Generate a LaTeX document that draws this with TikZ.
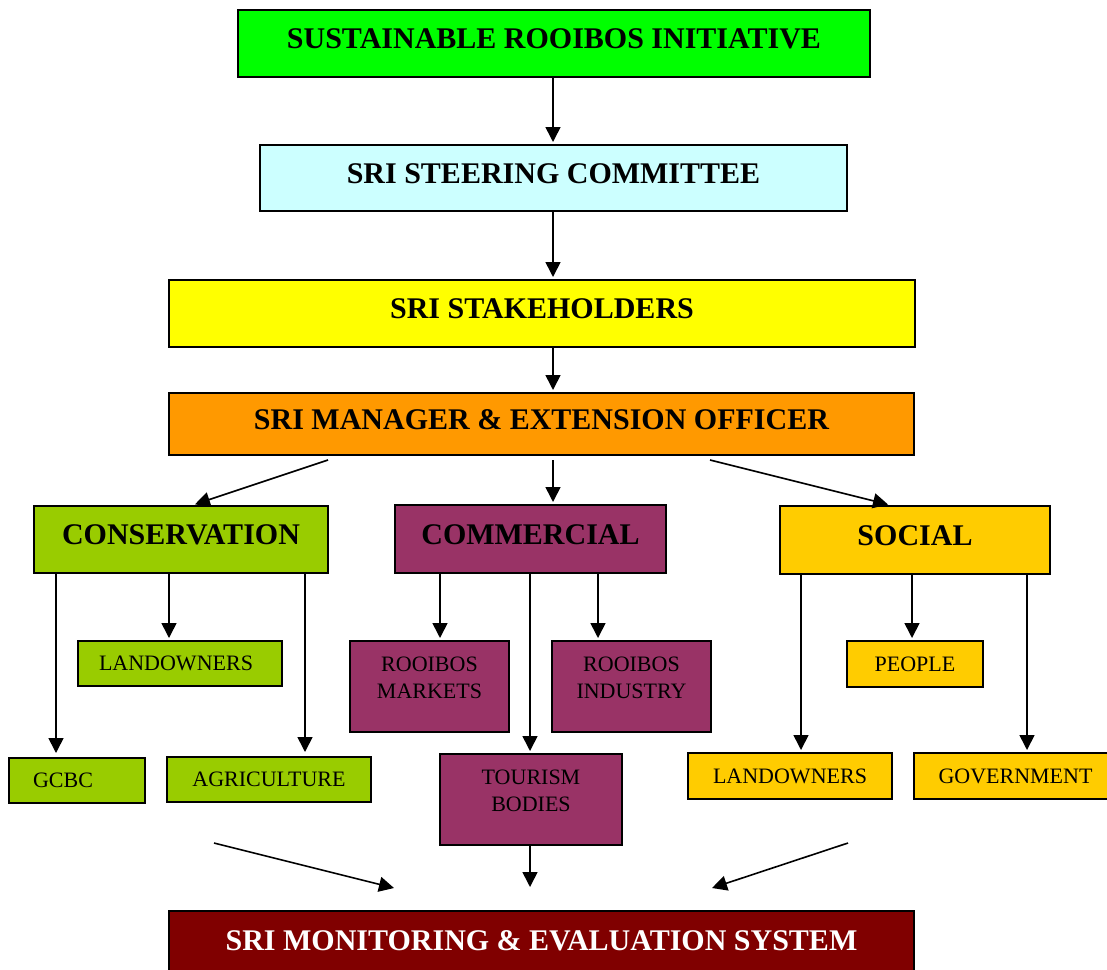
\documentclass[tikz,border=0pt]{standalone}
\usepackage{fontspec}
\setmainfont{Liberation Serif}
\usetikzlibrary{arrows.meta}
\definecolor{cSRI}{HTML}{00FF00}
\definecolor{cSteer}{HTML}{CCFFFF}
\definecolor{cStake}{HTML}{FFFF00}
\definecolor{cMgr}{HTML}{FF9900}
\definecolor{cCons}{HTML}{99CC00}
\definecolor{cComm}{HTML}{993366}
\definecolor{cSoc}{HTML}{FFCC00}
\definecolor{cME}{HTML}{800000}
\begin{document}
\begin{tikzpicture}[x=1pt,y=-1pt,
  box/.style={draw=black, line width=2pt, rectangle, inner sep=0pt},
  big/.style={box, font=\fontsize{30}{36}\selectfont\bfseries, text depth=9pt},
  small/.style={box, font=\fontsize{22}{27}\selectfont},
  tallbox/.style={small, align=center, text depth=17pt},
  arr/.style={line width=1.6pt, -{Triangle[length=15pt,width=15pt]}, shorten >=2pt}]
\clip (0,0) rectangle (1107,969);
\fill[white] (0,0) rectangle (1107,969);

% main column
\node[big, fill=cSRI, minimum width=632pt, minimum height=67pt] (sri) at (554,43.5) {SUSTAINABLE ROOIBOS INITIATIVE};
\node[big, fill=cSteer, minimum width=587pt, minimum height=66pt] (steer) at (553.5,178) {SRI STEERING COMMITTEE};
\node[big, fill=cStake, minimum width=746pt, minimum height=67pt] (stake) at (542,313.5) {SRI STAKEHOLDERS};
\node[big, fill=cMgr, minimum width=745pt, minimum height=62pt] (mgr) at (541.5,424) {SRI MANAGER \& EXTENSION OFFICER};

% pillars
\node[big, fill=cCons, minimum width=294pt, minimum height=67pt] (cons) at (181,539.5) {CONSERVATION};
\node[big, fill=cComm, minimum width=271pt, minimum height=68pt] (comm) at (530.5,539) {COMMERCIAL};
\node[big, fill=cSoc, minimum width=270pt, minimum height=68pt] (soc) at (915,540) {SOCIAL};

% conservation children
\node[small, fill=cCons, minimum width=204pt, minimum height=45pt] (land1) at (180,663.5) {LANDOWNERS\kern8pt};
\node[small, fill=cCons, minimum width=136pt, minimum height=45pt] (gcbc) at (77,780.5) {GCBC\kern28pt};
\node[small, fill=cCons, minimum width=204pt, minimum height=45pt] (agri) at (269,779.5) {AGRICULTURE};

% commercial children
\node[tallbox, fill=cComm, minimum width=159pt, minimum height=91pt] (mk) at (429.5,686.5) {ROOIBOS\\MARKETS};
\node[tallbox, fill=cComm, minimum width=159pt, minimum height=91pt] (ind) at (631.5,686.5) {ROOIBOS\\INDUSTRY};
\node[tallbox, fill=cComm, minimum width=182pt, minimum height=91pt] (tour) at (531,799.5) {TOURISM\\BODIES};

% social children
\node[small, fill=cSoc, minimum width=136pt, minimum height=46pt] (people) at (915,664) {PEOPLE};
\node[small, fill=cSoc, minimum width=204pt, minimum height=46pt] (land2) at (790,776) {LANDOWNERS};
\node[small, fill=cSoc, minimum width=203pt, minimum height=46pt] (gov) at (1015.5,776) {GOVERNMENT};

% monitoring
\node[big, fill=cME, text=white, minimum width=745pt, minimum height=69pt] (me) at (541.5,945.5) {SRI MONITORING \& EVALUATION SYSTEM};

% x guides
\coordinate (xc) at (553,0);
\coordinate (xConsIn) at (193,0);
\coordinate (xSocIn) at (890,0);
\coordinate (x56) at (56,0);
\coordinate (x169) at (169,0);
\coordinate (x305) at (305,0);
\coordinate (x440) at (440,0);
\coordinate (x530) at (530,0);
\coordinate (x598) at (598,0);
\coordinate (x801) at (801,0);
\coordinate (x912) at (912,0);
\coordinate (x1027) at (1027,0);

% main chain
\draw[arr] (sri.south -| xc) -- (steer.north -| xc);
\draw[arr] (steer.south -| xc) -- (stake.north -| xc);
\draw[arr] (stake.south -| xc) -- (mgr.north -| xc);

% manager to pillars
\coordinate (mL) at (328,460);
\coordinate (mC) at (553,460);
\coordinate (mR) at (710,460);
\draw[arr] (mL) -- (cons.north -| xConsIn);
\draw[arr] (mC) -- (comm.north -| xc);
\draw[arr] (mR) -- (soc.north -| xSocIn);

% conservation
\draw[arr, shorten >=4pt] (cons.south -| x56) -- (gcbc.north -| x56);
\draw[arr] (cons.south -| x169) -- (land1.north -| x169);
\draw[arr, shorten >=4pt] (cons.south -| x305) -- (agri.north -| x305);

% commercial
\draw[arr] (comm.south -| x440) -- (mk.north -| x440);
\draw[arr] (comm.south -| x530) -- (tour.north -| x530);
\draw[arr] (comm.south -| x598) -- (ind.north -| x598);

% social
\draw[arr] (soc.south -| x801) -- (land2.north -| x801);
\draw[arr] (soc.south -| x912) -- (people.north -| x912);
\draw[arr] (soc.south -| x1027) -- (gov.north -| x1027);

% towards monitoring
\coordinate (bL1) at (214,843);
\coordinate (bL2) at (394,888);
\coordinate (bR1) at (848,843);
\coordinate (bR2) at (712,888);
\coordinate (bC) at (530,887);
\draw[arr, shorten >=0pt] (bL1) -- (bL2);
\draw[arr, shorten >=0pt] (bR1) -- (bR2);
\draw[arr, shorten >=0pt] (tour.south -| x530) -- (bC);
\end{tikzpicture}
\end{document}
